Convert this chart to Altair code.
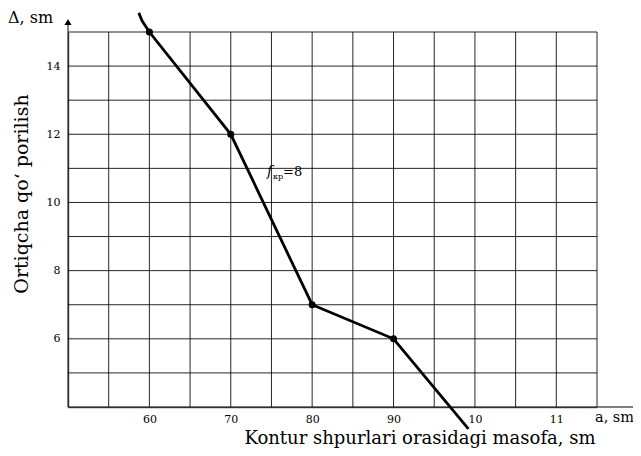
import altair as alt
import pandas as pd

# curve data (a, sm ; Δ, sm)
a_line = [58.7, 59.1, 60, 70, 80, 90, 99.2]
d_line = [15.56, 15.33, 15, 12, 7, 6, 3.36]
# marked points
a_pts = [60, 70, 80, 90]
d_pts = [15, 12, 7, 6]

x_grid = list(range(50, 120, 5))
y_grid = list(range(4, 16))

FONT = "DejaVu Serif"
W, H = 529, 375

line_df = pd.DataFrame({"a": a_line, "d": d_line, "o": list(range(len(a_line)))})
pts_df = pd.DataFrame({"a": a_pts, "d": d_pts})
xg_df = pd.DataFrame({"a": x_grid})
yg_df = pd.DataFrame({"d": y_grid})
one = pd.DataFrame({"k": [0]})

xs = alt.Scale(domain=[50, 115], nice=False, zero=False)
ys = alt.Scale(domain=[4, 15], nice=False, zero=False)

x_axis = alt.Axis(values=[60, 70, 80, 90, 100, 110], title=None, ticks=False, grid=False,
                  labelExpr="datum.value >= 100 ? format(datum.value/10, 'd') : datum.label",
                  labelFont=FONT, labelFontSize=11, labelColor="black", labelPadding=6,
                  domainColor="#555", domainWidth=1.5, labelFlush=False)
y_axis = alt.Axis(values=[6, 8, 10, 12, 14], title=None, ticks=False, grid=False,
                  labelFont=FONT, labelFontSize=11, labelColor="black", labelPadding=8,
                  domainColor="#555", domainWidth=1.5)

vgrid = alt.Chart(xg_df).mark_rule(color="black", strokeWidth=1, opacity=0.85).encode(
    x=alt.X("a:Q", scale=xs, axis=x_axis))
hgrid = alt.Chart(yg_df).mark_rule(color="black", strokeWidth=1, opacity=0.85).encode(
    y=alt.Y("d:Q", scale=ys, axis=y_axis))

line = alt.Chart(line_df).mark_line(color="black", strokeWidth=2.8, clip=False).encode(
    x=alt.X("a:Q", scale=xs),
    y=alt.Y("d:Q", scale=ys),
    order="o:Q",
)
pts = alt.Chart(pts_df).mark_circle(color="black", size=50, opacity=1).encode(
    x=alt.X("a:Q", scale=xs), y=alt.Y("d:Q", scale=ys)
)

def txt(s, x, y, size=16, align="left", baseline="middle", angle=0, style="normal"):
    return alt.Chart(one).mark_text(text=s, font=FONT, fontSize=size, align=align,
                                    baseline=baseline, angle=angle, fontStyle=style,
                                    color="black").encode(x=alt.value(x), y=alt.value(y))

# axis arrows
x_ext = alt.Chart(one).mark_rule(color="#555", strokeWidth=1.5).encode(
    x=alt.value(W), x2=alt.value(W + 40), y=alt.value(H))
x_arrow = alt.Chart(one).mark_point(shape="triangle-right", filled=True, color="black",
                                    size=60, opacity=1).encode(x=alt.value(W + 42), y=alt.value(H))
y_ext = alt.Chart(one).mark_rule(color="#555", strokeWidth=1.5).encode(
    x=alt.value(0), y=alt.value(0), y2=alt.value(-8))
y_arrow = alt.Chart(one).mark_point(shape="triangle-up", filled=True, color="black",
                                    size=50, opacity=1).encode(x=alt.value(0), y=alt.value(-10))

chart = alt.layer(
    vgrid, hgrid, line, pts, x_ext, x_arrow, y_ext, y_arrow,
    txt("Δ, sm", -60, -14, size=16),
    txt("a, sm", 527, 386, size=14.5),
    txt("Kontur shpurlari orasidagi masofa, sm", 352, 407, size=18, align="center"),
    txt("Ortiqcha qo‘ porilish", -46, 162, size=19, align="center", angle=270),
    txt("f", 199, 140, size=14, style="italic"),
    txt("кр", 205, 145, size=8),
    txt("=8", 215, 140, size=13),
).properties(
    width=W, height=H,
    autosize=alt.AutoSizeParams(type="none"),
    padding={"left": 60, "top": 24, "right": 36, "bottom": 46},
).configure_view(stroke=None)

chart.save("out.html", embed_options={"renderer": "svg", "actions": False})
